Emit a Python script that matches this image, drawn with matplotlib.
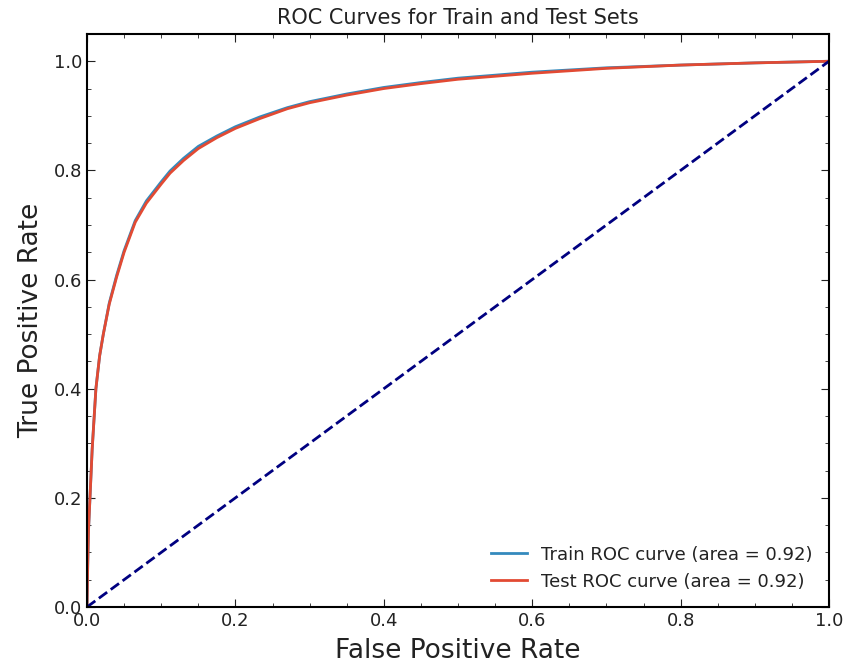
import matplotlib
matplotlib.use("Agg")
import matplotlib.pyplot as plt
from matplotlib.ticker import MultipleLocator

fpr = [0, 0.001, 0.002, 0.004, 0.007, 0.012, 0.017, 0.022, 0.03, 0.04, 0.05, 0.065,
       0.08, 0.1, 0.112, 0.13, 0.15, 0.175, 0.2, 0.233, 0.27, 0.3, 0.35, 0.4, 0.45,
       0.5, 0.6, 0.7, 0.8, 0.9, 1.0]
tpr_train = [0, 0.08, 0.14, 0.2, 0.29, 0.40, 0.46, 0.50, 0.557, 0.608, 0.653, 0.708,
             0.744, 0.779, 0.799, 0.822, 0.844, 0.863, 0.880, 0.898, 0.915, 0.926,
             0.940, 0.952, 0.961, 0.969, 0.980, 0.988, 0.993, 0.997, 1.0]
tpr_test = [0, 0.08, 0.14, 0.2, 0.29, 0.40, 0.46, 0.50, 0.555, 0.605, 0.650, 0.705,
            0.740, 0.775, 0.795, 0.818, 0.840, 0.860, 0.877, 0.895, 0.913, 0.924,
            0.938, 0.950, 0.959, 0.967, 0.978, 0.987, 0.993, 0.997, 1.0]
labels = ["Train ROC curve (area = 0.92)", "Test ROC curve (area = 0.92)"]
diag = [0, 1]

plt.rcParams['font.family'] = ['DejaVu Sans']
fig = plt.figure(figsize=(8.48, 6.66), dpi=100)
ax = fig.add_axes([0.1026, 0.0886, 0.875, 0.8604])
ax.plot(fpr, tpr_train, color='#348ABD', lw=2, label=labels[0])
ax.plot(fpr, tpr_test, color='#E24A33', lw=2, label=labels[1])
ax.plot(diag, diag, color='navy', lw=2, linestyle='--')
ax.set_xlim(0, 1.0)
ax.set_ylim(0, 1.05)
ax.xaxis.set_major_locator(MultipleLocator(0.2))
ax.yaxis.set_major_locator(MultipleLocator(0.2))
ax.xaxis.set_minor_locator(MultipleLocator(0.05))
ax.yaxis.set_minor_locator(MultipleLocator(0.05))
ax.tick_params(which='both', direction='in', top=True, right=True, labelsize=13,
               labelcolor='#222222', color='#222222')
ax.tick_params(which='major', length=6)
ax.tick_params(which='minor', length=3)
for s in ax.spines.values():
    s.set_linewidth(1.5)
    s.set_color('black')
ax.set_xlabel('False Positive Rate', fontsize=19, color='#222222', labelpad=6)
ax.set_ylabel('True Positive Rate', fontsize=19, color='#222222', labelpad=7)
ax.set_title('ROC Curves for Train and Test Sets', fontsize=15, color='#222222', pad=7)
ax.legend(loc='lower right', frameon=False, fontsize=13, labelcolor='#222222')
fig.savefig('out.png', dpi=100)
